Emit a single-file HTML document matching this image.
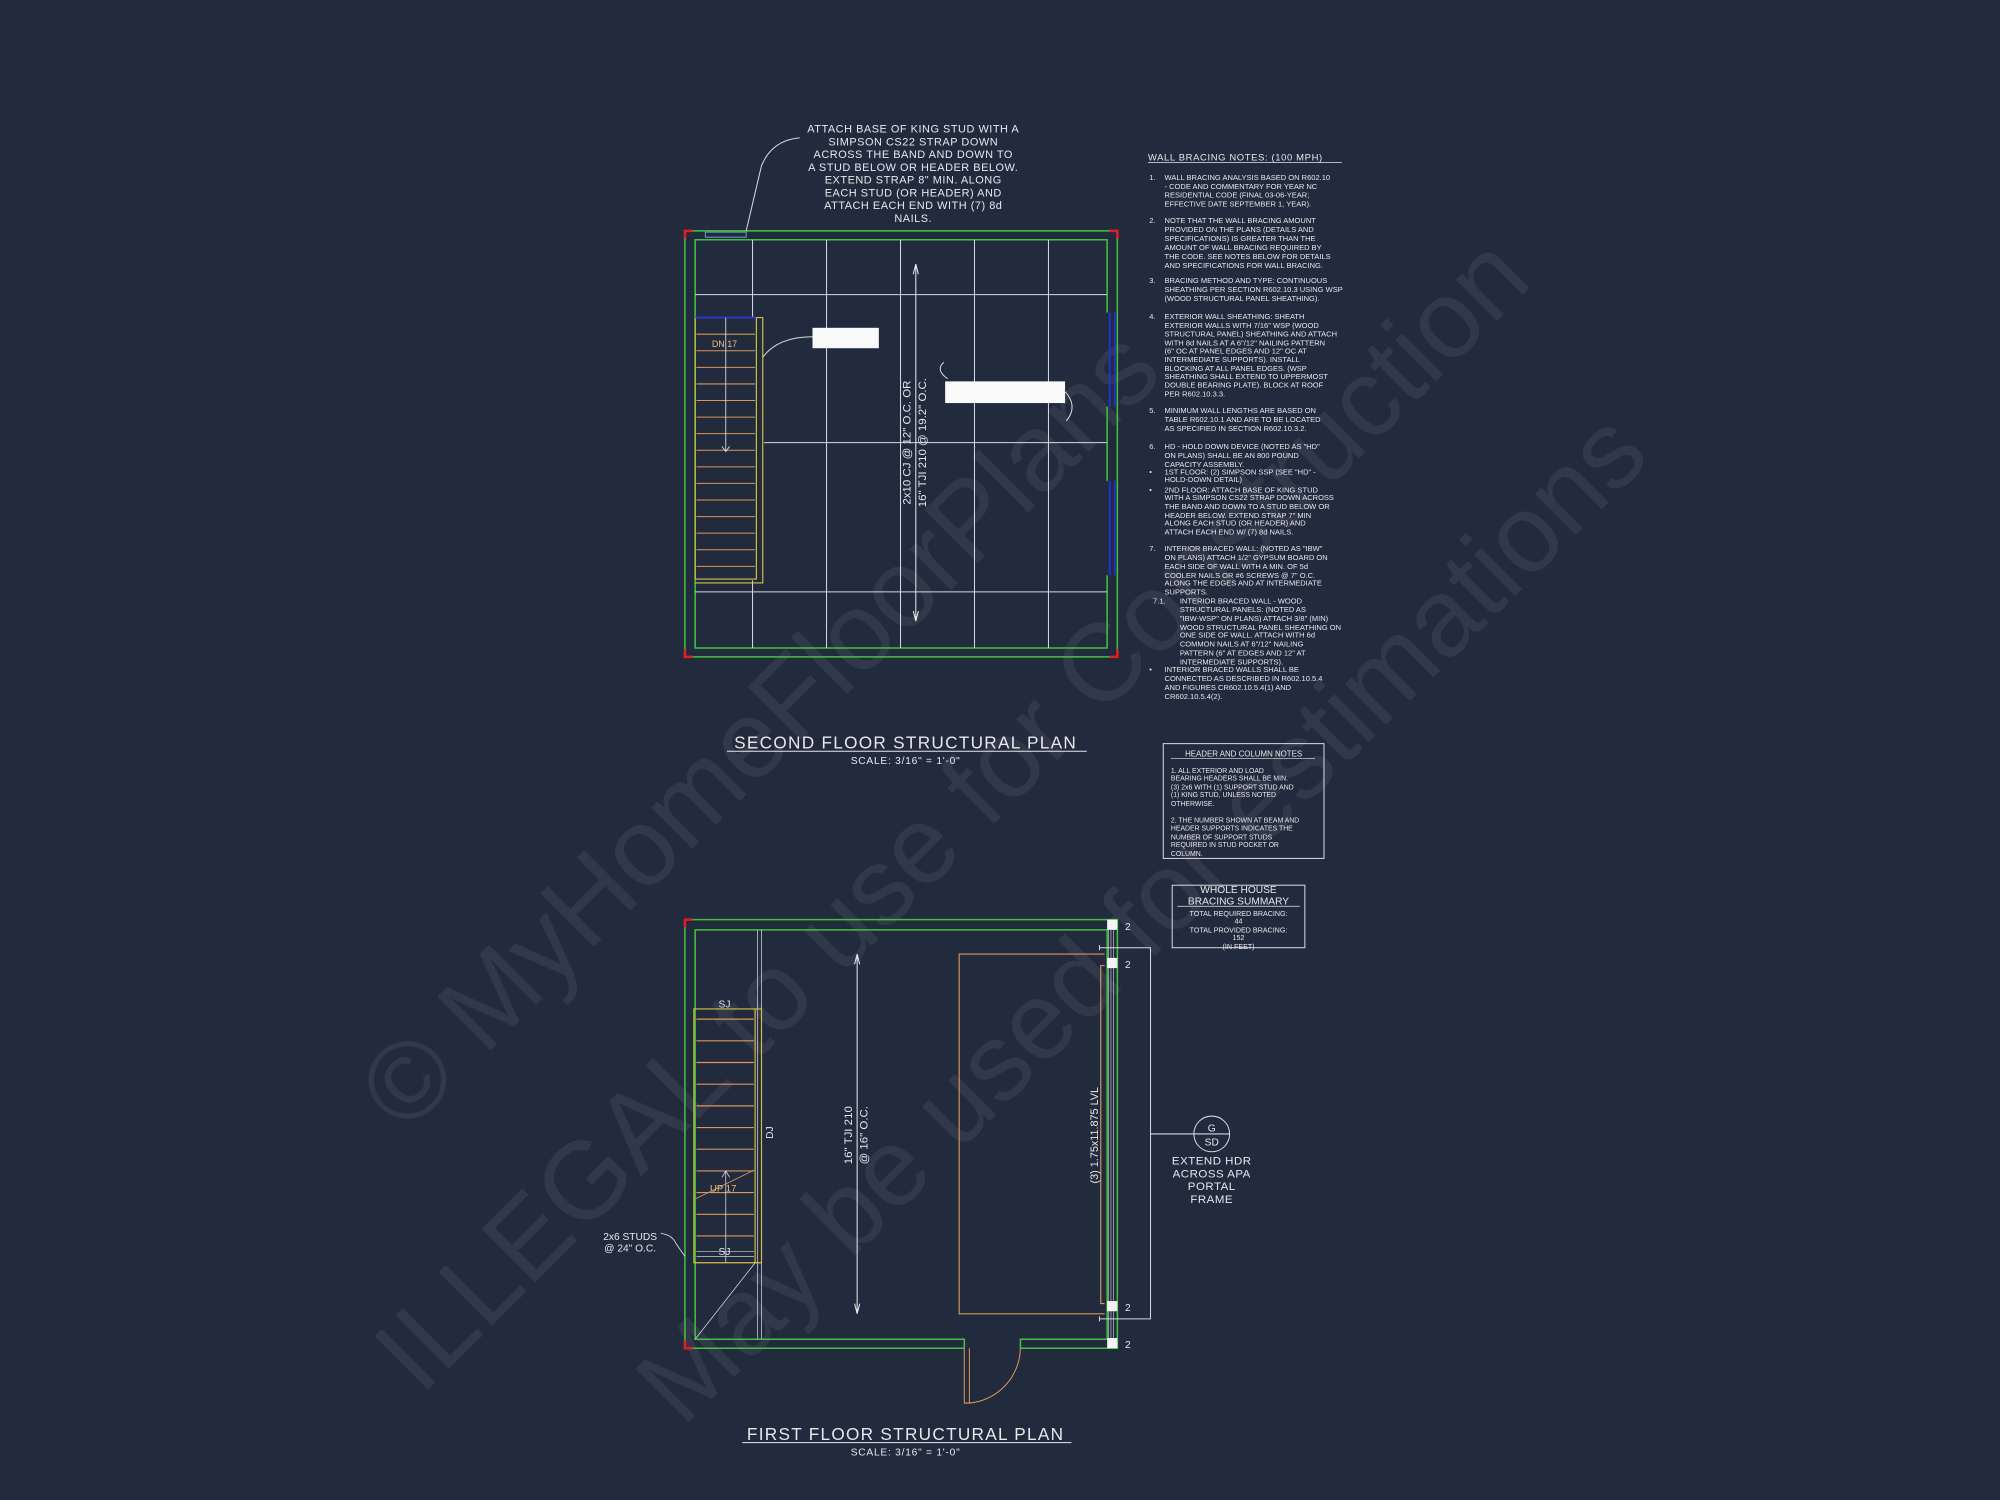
<!DOCTYPE html>
<html><head><meta charset="utf-8"><style>
html,body{margin:0;padding:0;background:#222a3d;}
svg{display:block;}
text{font-family:"Liberation Sans",sans-serif;fill:#e8e8ec;}
.n{font-size:5.9px;}
</style></head><body>
<svg width="2000" height="1500" viewBox="0 0 1568 1176" xmlns="http://www.w3.org/2000/svg">
<rect width="1568" height="1176" fill="#222a3d"/>

<!-- watermark -->
<g opacity="0.065" style="font-family:'Liberation Serif',serif" font-size="86">
<text transform="translate(318,890) rotate(-45)" style="fill:#fff">© MyHomeFloorPlans</text>
<text transform="translate(330,1095) rotate(-45)" style="fill:#fff">ILLEGAL to use for Construction</text>
<text transform="translate(535,1120) rotate(-45)" style="fill:#fff">May be used for estimations</text>
</g>

<!-- ============ SECOND FLOOR ============ -->
<g fill="none" stroke-width="1.2">
<rect x="537" y="181" width="339" height="334" stroke="#3fc23f"/>
<path d="M868,245 V188 H545 V508 H868 V451 M868,319 V377" stroke="#3fc23f"/>
<path d="M870,245 V319 M874,245 V319 M870,377 V451 M874,377 V451" stroke="#2233cc" stroke-width="1.5"/>
<path d="M537,187 V181 H543 M876,187 V181 H870 M537,509 V515 H543 M876,509 V515 H870" stroke="#e02020" stroke-width="2"/>
<rect x="553" y="182" width="32" height="4" stroke="#6aa0c0" stroke-width="0.8"/>
<g stroke="#d8d8e0" stroke-width="0.8">
<path d="M590,188 V249 M590,455 V508 M648,188 V508 M706,188 V508 M764,188 V508 M822,188 V508"/>
<path d="M545,231 H868 M599,347 H868 M545,464 H868"/>
</g>
<path d="M545,249 H593" stroke="#2a3acc" stroke-width="1.5"/>
<path d="M545,249 V454 H593 V249 M593,249 H598 V457 H545" stroke="#d8c040" stroke-width="0.9"/>
<g stroke="#d9955a" stroke-width="0.8">
<path d="M546,262 H592 M546,275 H592 M546,288 H592 M546,301 H592 M546,314 H592 M546,327 H592 M546,340 H592 M546,353 H592 M546,366 H592 M546,379 H592 M546,392 H592 M546,405 H592 M546,418 H592 M546,431 H592 M546,444 H592"/>
</g>
<path d="M569,249 V354 M566,350 L569,354 L572,350" stroke="#d8d8e0" stroke-width="0.7"/>
<rect x="637" y="257" width="52" height="16" fill="#fafafa" stroke="none"/>
<rect x="741" y="299" width="94" height="17" fill="#fafafa" stroke="none"/>
<path d="M637,264 Q610,264 598,280" stroke="#d8d8e0" stroke-width="0.8"/>
<path d="M743,297 Q733,290 740,284" stroke="#d8d8e0" stroke-width="0.8"/>
<path d="M834,306 Q846,318 836,330" stroke="#d8d8e0" stroke-width="0.8"/>
<path d="M718,207 V487 M716,215 L718,207 L720,215 M716,479 L718,487 L720,479" stroke="#e8e8ec" stroke-width="0.8"/>
<path d="M627,108 Q605,110 597,130 L585,181" stroke="#d8d8e0" stroke-width="0.8"/>
</g>
<text x="568" y="272" font-size="7" text-anchor="middle" style="fill:#e6c080">DN 17</text>
<text transform="translate(714,347) rotate(-90)" font-size="9" text-anchor="middle">2x10 CJ @ 12" O.C. OR</text>
<text transform="translate(726,347) rotate(-90)" font-size="9" text-anchor="middle">16" TJI 210 @ 19.2" O.C.</text>
<g font-size="8.6" text-anchor="middle" letter-spacing="0.4">
<text x="716" y="104">ATTACH BASE OF KING STUD WITH A</text>
<text x="716" y="114">SIMPSON CS22 STRAP DOWN</text>
<text x="716" y="124">ACROSS THE BAND AND DOWN TO</text>
<text x="716" y="134">A STUD BELOW OR HEADER BELOW.</text>
<text x="716" y="144">EXTEND STRAP 8" MIN. ALONG</text>
<text x="716" y="154">EACH STUD (OR HEADER) AND</text>
<text x="716" y="164">ATTACH EACH END WITH (7) 8d</text>
<text x="716" y="174">NAILS.</text>
</g>
<text x="710" y="587" font-size="13.5" text-anchor="middle" letter-spacing="1">SECOND FLOOR STRUCTURAL PLAN</text>
<line x1="570" y1="589" x2="852" y2="589" stroke="#e8e8ec" stroke-width="0.8"/>
<text x="710" y="599" font-size="8" text-anchor="middle" letter-spacing="0.6">SCALE: 3/16" = 1'-0"</text>

<!-- ============ NOTES ============ -->
<text x="900" y="126" font-size="7.4" letter-spacing="0.5">WALL BRACING NOTES: (100 MPH)</text>
<line x1="900" y1="127.5" x2="1052" y2="127.5" stroke="#e8e8ec" stroke-width="0.6"/>
<g class="n">
<text x="901" y="141">1.</text>
<text x="913" y="141">WALL BRACING ANALYSIS BASED ON R602.10</text>
<text x="913" y="148">- CODE AND COMMENTARY FOR YEAR NC</text>
<text x="913" y="155">RESIDENTIAL CODE (FINAL 03-06-YEAR;</text>
<text x="913" y="162">EFFECTIVE DATE SEPTEMBER 1, YEAR).</text>
<text x="901" y="175">2.</text>
<text x="913" y="175">NOTE THAT THE WALL BRACING AMOUNT</text>
<text x="913" y="182">PROVIDED ON THE PLANS (DETAILS AND</text>
<text x="913" y="189">SPECIFICATIONS) IS GREATER THAN THE</text>
<text x="913" y="196">AMOUNT OF WALL BRACING REQUIRED BY</text>
<text x="913" y="203">THE CODE. SEE NOTES BELOW FOR DETAILS</text>
<text x="913" y="210">AND SPECIFICATIONS FOR WALL BRACING.</text>
<text x="901" y="222">3.</text>
<text x="913" y="222">BRACING METHOD AND TYPE: CONTINUOUS</text>
<text x="913" y="229">SHEATHING PER SECTION R602.10.3 USING WSP</text>
<text x="913" y="236">(WOOD STRUCTURAL PANEL SHEATHING).</text>
<text x="901" y="250">4.</text>
<text x="913" y="250">EXTERIOR WALL SHEATHING: SHEATH</text>
<text x="913" y="257">EXTERIOR WALLS WITH 7/16" WSP (WOOD</text>
<text x="913" y="264">STRUCTURAL PANEL) SHEATHING AND ATTACH</text>
<text x="913" y="271">WITH 8d NAILS AT A 6"/12" NAILING PATTERN</text>
<text x="913" y="277">(6" OC AT PANEL EDGES AND 12" OC AT</text>
<text x="913" y="284">INTERMEDIATE SUPPORTS). INSTALL</text>
<text x="913" y="291">BLOCKING AT ALL PANEL EDGES. (WSP</text>
<text x="913" y="297">SHEATHING SHALL EXTEND TO UPPERMOST</text>
<text x="913" y="304">DOUBLE BEARING PLATE). BLOCK AT ROOF</text>
<text x="913" y="311">PER R602.10.3.3.</text>
<text x="901" y="324">5.</text>
<text x="913" y="324">MINIMUM WALL LENGTHS ARE BASED ON</text>
<text x="913" y="331">TABLE R602.10.1 AND ARE TO BE LOCATED</text>
<text x="913" y="338">AS SPECIFIED IN SECTION R602.10.3.2.</text>
<text x="901" y="352">6.</text>
<text x="913" y="352">HD - HOLD DOWN DEVICE (NOTED AS "HD"</text>
<text x="913" y="359">ON PLANS) SHALL BE AN 800 POUND</text>
<text x="913" y="366">CAPACITY ASSEMBLY.</text>
<text x="901" y="372">•</text>
<text x="913" y="372">1ST FLOOR: (2) SIMPSON SSP (SEE "HD" -</text>
<text x="913" y="378">HOLD-DOWN DETAIL)</text>
<text x="901" y="386">•</text>
<text x="913" y="386">2ND FLOOR: ATTACH BASE OF KING STUD</text>
<text x="913" y="392">WITH A SIMPSON CS22 STRAP DOWN ACROSS</text>
<text x="913" y="399">THE BAND AND DOWN TO A STUD BELOW OR</text>
<text x="913" y="406">HEADER BELOW. EXTEND STRAP 7" MIN</text>
<text x="913" y="412">ALONG EACH STUD (OR HEADER) AND</text>
<text x="913" y="419">ATTACH EACH END W/ (7) 8d NAILS.</text>
<text x="901" y="432">7.</text>
<text x="913" y="432">INTERIOR BRACED WALL: (NOTED AS "IBW"</text>
<text x="913" y="439">ON PLANS) ATTACH 1/2" GYPSUM BOARD ON</text>
<text x="913" y="446">EACH SIDE OF WALL WITH A MIN. OF 5d</text>
<text x="913" y="453">COOLER NAILS OR #6 SCREWS @ 7" O.C.</text>
<text x="913" y="459">ALONG THE EDGES AND AT INTERMEDIATE</text>
<text x="913" y="466">SUPPORTS.</text>
<text x="904" y="473">7.1.</text>
<text x="925" y="473">INTERIOR BRACED WALL - WOOD</text>
<text x="925" y="480">STRUCTURAL PANELS: (NOTED AS</text>
<text x="925" y="487">"IBW-WSP" ON PLANS) ATTACH 3/8" (MIN)</text>
<text x="925" y="494">WOOD STRUCTURAL PANEL SHEATHING ON</text>
<text x="925" y="500">ONE SIDE OF WALL. ATTACH WITH 6d</text>
<text x="925" y="507">COMMON NAILS AT 6"/12" NAILING</text>
<text x="925" y="514">PATTERN (6" AT EDGES AND 12" AT</text>
<text x="925" y="521">INTERMEDIATE SUPPORTS).</text>
<text x="901" y="527">•</text>
<text x="913" y="527">INTERIOR BRACED WALLS SHALL BE</text>
<text x="913" y="534">CONNECTED AS DESCRIBED IN R602.10.5.4</text>
<text x="913" y="541">AND FIGURES CR602.10.5.4(1) AND</text>
<text x="913" y="548">CR602.10.5.4(2).</text>
</g>

<rect x="912" y="583" width="126" height="90" fill="none" stroke="#d8d8e0" stroke-width="0.8"/>
<text x="975" y="593" font-size="6.2" text-anchor="middle">HEADER AND COLUMN NOTES</text>
<line x1="918" y1="594.5" x2="1031" y2="594.5" stroke="#e8e8ec" stroke-width="0.5"/>
<g font-size="5.4">
<text x="918" y="606">1. ALL EXTERIOR AND LOAD</text>
<text x="918" y="612">BEARING HEADERS SHALL BE MIN.</text>
<text x="918" y="619">(3) 2x6 WITH (1) SUPPORT STUD AND</text>
<text x="918" y="625">(1) KING STUD, UNLESS NOTED</text>
<text x="918" y="632">OTHERWISE.</text>
<text x="918" y="645">2. THE NUMBER SHOWN AT BEAM AND</text>
<text x="918" y="651">HEADER SUPPORTS INDICATES THE</text>
<text x="918" y="658">NUMBER OF SUPPORT STUDS</text>
<text x="918" y="664">REQUIRED IN STUD POCKET OR</text>
<text x="918" y="671">COLUMN.</text>
</g>
<rect x="919" y="694" width="104" height="49" fill="none" stroke="#d8d8e0" stroke-width="0.8"/>
<text x="971" y="700" font-size="8" text-anchor="middle">WHOLE HOUSE</text>
<text x="971" y="709" font-size="8" text-anchor="middle">BRACING SUMMARY</text>
<line x1="923" y1="710.5" x2="1019" y2="710.5" stroke="#e8e8ec" stroke-width="0.5"/>
<g font-size="5.6" text-anchor="middle">
<text x="971" y="718">TOTAL REQUIRED BRACING:</text>
<text x="971" y="724">44</text>
<text x="971" y="731">TOTAL PROVIDED BRACING:</text>
<text x="971" y="737">152</text>
<text x="971" y="744">(IN FEET)</text>
</g>

<!-- ============ FIRST FLOOR ============ -->
<g fill="none" stroke-width="1.2">
<path d="M756,1057 H537 V721 H876 V1057 H800" stroke="#3fc23f"/>
<path d="M756,1057 V1050 H545 V729 H868 V1050 H800 V1057" stroke="#3fc23f"/>
<path d="M537,727 V721 H543 M537,1051 V1057 H543" stroke="#e02020" stroke-width="2"/>
<path d="M869,729 V1050 M871,729 V1050 M873,729 V1050" stroke="#cfd2da" stroke-width="0.5"/>
<g fill="#f4f4f4" stroke="none">
<rect x="868" y="721" width="8" height="8"/><rect x="868" y="751" width="8" height="8"/>
<rect x="868" y="1020" width="8" height="8"/><rect x="868" y="1049" width="8" height="8"/>
</g>
<path d="M594,729 V1050 M597,729 V1050" stroke="#cfd2da" stroke-width="0.6"/>
<path d="M866,748 H752 V1030 H866" stroke="#d9955a" stroke-width="0.9"/>
<path d="M866,757 H863 V1022 H866" stroke="#d9955a" stroke-width="0.9"/>
<path d="M862,743 H902 V1034 H862 M902,889 H936 M862,741 V745 M862,1032 V1036" stroke="#d8d8e0" stroke-width="0.8"/>
<circle cx="950" cy="889" r="14" stroke="#d8d8e0" stroke-width="0.8"/>
<line x1="936" y1="889" x2="964" y2="889" stroke="#d8d8e0" stroke-width="0.8"/>
<path d="M544,791 H597 V990 H544 Z M592,791 V990" stroke="#d8c040" stroke-width="0.9"/>
<g stroke="#d9955a" stroke-width="0.9">
<path d="M546,799 H591 M546,816 H591 M546,833 H591 M546,850 H591 M546,867 H591 M546,884 H591 M546,901 H591 M546,918 H591 M546,935 H591 M546,952 H591 M546,969 H591"/>
</g>
<path d="M546,981 H591 M546,985 H591" stroke="#cfd2da" stroke-width="0.5"/>
<path d="M545,1050 L592,990 M569,990 V918 M566,923 L569,918 L572,923" stroke="#d8d8e0" stroke-width="0.6"/>
<path d="M545,940 L592,917" stroke="#d9955a" stroke-width="0.7"/>
<path d="M756,1057 V1100 H760 V1057" stroke="#d9955a" stroke-width="0.8"/>
<path d="M800,1057 A44,44 0 0 1 760,1100" stroke="#d9955a" stroke-width="0.8"/>
<path d="M672,748 V1030 M670,756 L672,748 L674,756 M670,1022 L672,1030 L674,1022" stroke="#e8e8ec" stroke-width="0.8"/>
<path d="M518,967 Q527,968 530,975 L537,985" stroke="#d8d8e0" stroke-width="0.7"/>
</g>
<g font-size="8">
<text x="882" y="729">2</text><text x="882" y="759">2</text>
<text x="882" y="1028">2</text><text x="882" y="1057">2</text>
</g>
<text x="568" y="790" font-size="8" text-anchor="middle">SJ</text>
<text x="568" y="984" font-size="8" text-anchor="middle">SJ</text>
<text x="567" y="934" font-size="7.5" text-anchor="middle" style="fill:#e6c080">UP 17</text>
<text transform="translate(606,888) rotate(-90)" font-size="8" text-anchor="middle">DJ</text>
<text transform="translate(668,890) rotate(-90)" font-size="9" text-anchor="middle">16" TJI 210</text>
<text transform="translate(680,890) rotate(-90)" font-size="9" text-anchor="middle">@ 16" O.C.</text>
<text transform="translate(861,890) rotate(-90)" font-size="8.5" text-anchor="middle">(3) 1.75x11.875 LVL</text>
<text x="950" y="887" font-size="8" text-anchor="middle">G</text>
<text x="950" y="898" font-size="8" text-anchor="middle">SD</text>
<g font-size="9" text-anchor="middle" letter-spacing="0.4">
<text x="950" y="913">EXTEND HDR</text>
<text x="950" y="923">ACROSS APA</text>
<text x="950" y="933">PORTAL</text>
<text x="950" y="943">FRAME</text>
</g>
<text x="494" y="972" font-size="8" text-anchor="middle">2x6 STUDS</text>
<text x="494" y="981" font-size="8" text-anchor="middle">@ 24" O.C.</text>
<text x="710" y="1129" font-size="13.5" text-anchor="middle" letter-spacing="1">FIRST FLOOR STRUCTURAL PLAN</text>
<line x1="582" y1="1131" x2="840" y2="1131" stroke="#e8e8ec" stroke-width="0.8"/>
<text x="710" y="1141" font-size="8" text-anchor="middle" letter-spacing="0.6">SCALE: 3/16" = 1'-0"</text>
</svg>
</body></html>
